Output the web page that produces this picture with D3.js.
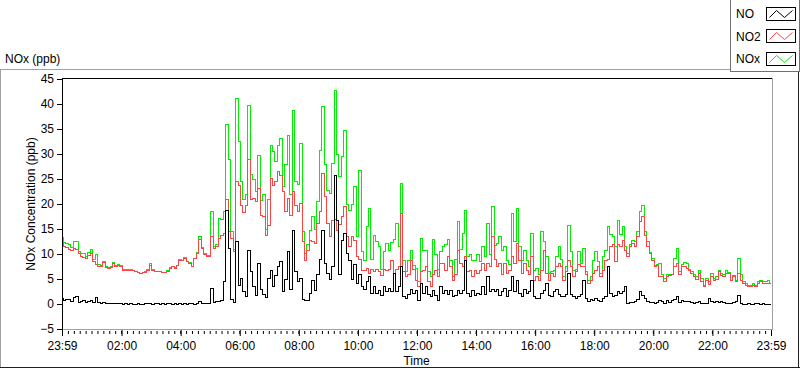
<!DOCTYPE html>
<html><head><meta charset="utf-8">
<script src="https://cdn.jsdelivr.net/npm/d3@7"></script>
<style>
body{margin:0;background:#fff}
svg{display:block}
text{font-family:"Liberation Sans",Arial,sans-serif;font-size:12px;fill:#000}
</style>
</head><body>
<svg id="chart" width="800" height="369"></svg>
<script>
// ---- data (5-minute samples starting at 23:59) ----
const stepMinutes = 5;
const NO = [
1.2,0.8,1.0,0.9,0.6,1.4,1.6,0.4,0.5,0.7,0.4,0.6,
0.8,0.3,1.3,0.3,0.2,0.3,0.2,0.2,0.1,0.2,0.2,0.1,
0.1,-0.1,0.1,0.0,0.1,-0.1,0.0,0.1,-0.1,0.0,0.1,0.1,
0.1,-0.1,0.1,0.1,0.0,0.1,-0.1,0.1,0.1,0.0,0.1,-0.1,
0.1,0.0,0.1,-0.1,0.2,0.1,0.0,0.1,0.5,0.1,0.1,0.1,
0.1,3.1,0.3,0.5,0.5,0.8,4.5,18.8,11.2,1.0,0.3,12.5,
3.8,5.1,2.5,1.5,10.8,6.5,3.5,1.8,8.1,3.0,2.0,1.3,
5.1,6.8,3.5,5.8,7.5,8.5,2.5,5.0,10.5,3.0,14.8,6.5,
4.5,5.1,1.0,0.8,0.8,2.1,4.8,2.8,6.0,9.0,14.8,8.1,
6.1,5.0,7.5,25.8,16.8,6.0,12.8,14.1,10.1,8.8,5.0,8.0,
4.1,6.0,3.5,3.0,4.5,5.5,2.1,3.5,2.1,2.8,1.8,3.5,
2.5,3.2,2.6,6.1,2.6,3.5,7.5,1.5,1.1,2.0,3.0,2.1,
2.8,0.8,4.1,2.1,3.5,2.0,1.5,2.8,1.8,0.8,3.5,2.1,
2.8,2.0,2.8,1.5,1.8,2.8,2.1,2.8,8.8,2.1,1.5,2.8,
1.8,2.2,2.0,3.5,2.0,5.5,2.5,3.0,2.5,3.0,1.8,2.5,
3.2,1.5,2.8,5.5,2.5,4.8,2.2,1.5,3.0,2.2,2.5,4.8,
1.5,1.1,1.2,2.1,2.8,4.1,1.8,1.5,2.5,3.0,2.0,1.5,
1.5,2.0,6.1,2.0,1.5,1.2,1.5,2.0,4.8,1.2,0.5,1.0,
0.8,1.2,0.8,0.6,1.2,1.5,7.5,2.1,1.5,1.8,2.5,2.1,
2.5,3.5,0.1,0.3,0.3,0.5,1.0,2.5,1.8,1.1,0.6,0.3,
0.4,0.1,0.3,0.8,0.5,0.2,0.8,0.4,0.8,1.0,1.5,0.4,
0.8,0.5,0.6,0.5,0.4,0.2,0.4,0.5,0.2,0.1,0.2,1.1,
0.5,0.3,0.5,0.3,0.5,0.3,0.2,0.1,0.1,0.3,0.5,1.8,
0.2,0.0,0.0,0.1,0.0,0.0,0.1,0.1,0.0,0.1,0.0,0.0,0.0
];
const NO2 = [
12.2,11.6,11.3,11.0,10.8,11.2,10.9,10.1,9.6,9.4,9.1,9.8,
10.2,8.6,8.0,7.6,7.5,8.3,7.3,7.2,7.4,8.2,7.5,7.7,
7.6,6.8,6.8,6.8,6.8,6.7,6.5,6.3,6.1,6.3,6.4,6.8,
7.8,6.8,6.5,6.5,6.5,6.3,6.4,6.6,7.2,7.5,7.2,7.8,
8.8,8.8,9.1,8.6,8.1,7.5,9.1,10.1,13.0,11.1,10.0,9.6,
9.6,13.5,11.2,11.5,13.2,13.8,14.2,21.0,14.5,13.2,10.5,24.5,
23.8,19.8,18.4,19.8,29.0,21.0,21.1,20.5,23.1,17.8,17.5,13.8,
15.8,25.1,23.8,24.5,26.5,25.8,22.5,18.5,21.1,17.8,22.5,19.8,
18.5,20.2,12.5,8.8,10.8,12.8,12.5,12.1,16.1,18.5,26.1,21.5,
16.1,13.5,16.8,17.0,14.8,16.0,17.5,19.5,13.5,11.5,13.5,12.8,
9.5,9.0,6.8,6.8,7.2,6.1,7.0,6.5,7.0,6.5,5.8,7.0,
6.8,7.0,8.8,6.2,7.0,7.5,18.1,6.5,5.5,6.0,8.8,7.0,
4.8,3.5,6.5,6.8,7.5,4.5,3.5,6.0,6.8,5.5,8.1,8.1,
6.8,9.5,7.5,4.8,6.0,10.8,8.1,7.5,9.5,6.5,6.8,5.5,
6.8,6.2,6.8,8.1,6.8,8.1,7.5,13.5,9.0,7.5,8.1,6.0,
8.1,6.2,6.8,9.5,8.1,12.1,8.8,6.2,8.1,6.8,6.0,9.5,
4.8,5.5,4.8,6.8,10.8,6.2,4.8,6.2,5.5,7.5,8.1,7.5,
4.8,6.5,8.8,7.5,5.5,6.5,8.0,7.5,7.5,6.0,4.1,4.8,
6.2,6.8,7.5,5.5,6.8,8.8,9.0,11.5,12.0,8.5,12.0,11.5,
12.8,10.8,9.5,11.5,12.1,11.5,13.5,16.5,17.5,13.8,11.5,10.1,
8.8,7.5,7.8,5.5,5.5,4.5,5.5,5.8,6.0,7.5,8.1,6.0,
7.5,7.5,7.2,6.8,6.2,5.5,5.0,6.2,4.5,3.5,4.8,4.0,
5.5,4.8,5.0,6.5,5.8,5.5,6.1,6.1,4.8,5.5,4.5,6.1,
4.8,4.1,3.8,3.5,3.5,3.8,3.5,4.1,4.5,4.1,4.1,4.1,4.1
];
const NOx = [
13.3,12.4,12.2,11.9,11.4,12.6,12.5,10.5,10.1,10.1,9.5,10.4,
11.0,8.9,9.9,7.9,7.7,8.6,7.5,7.4,7.5,8.4,7.7,8.0,
7.8,7.0,6.9,6.9,7.0,6.8,6.6,6.4,6.1,6.4,6.5,6.9,
8.1,6.9,6.6,6.6,6.5,6.4,6.4,6.7,7.3,7.5,7.3,7.8,
9.0,8.8,9.3,8.6,8.4,7.6,9.1,10.3,13.5,11.3,10.1,9.7,
9.7,18.5,11.6,12.0,17.2,17.0,18.5,36.0,29.0,14.5,10.9,41.1,
32.5,24.5,21.0,22.0,39.8,26.0,25.0,22.5,29.8,20.8,22.0,15.0,
21.0,31.8,30.5,28.5,31.8,33.1,23.5,28.0,33.8,22.0,38.8,24.5,
24.0,32.1,14.5,10.2,12.0,14.8,17.5,15.0,20.5,30.8,39.5,28.0,
22.8,22.1,28.1,42.8,30.0,25.5,29.5,34.8,20.0,18.8,20.0,23.5,
13.5,26.8,10.5,8.8,15.5,19.2,9.0,13.8,12.5,11.5,7.0,10.5,
12.1,10.8,12.3,13.0,16.1,11.5,24.1,8.8,6.5,8.8,10.8,7.8,
7.2,4.5,13.1,10.8,10.8,6.5,5.5,13.0,10.0,7.0,10.5,11.5,
12.0,13.0,8.8,5.5,9.0,16.5,11.0,14.1,18.8,9.5,10.0,8.8,
8.8,10.0,8.5,11.5,9.5,16.1,10.0,19.5,11.8,12.1,13.5,10.8,
11.5,8.8,7.9,18.1,12.5,19.1,11.5,8.8,10.8,8.8,7.5,14.1,
6.8,7.2,6.0,14.5,12.5,9.5,6.2,6.5,6.8,9.5,11.5,9.0,
5.5,7.5,15.8,10.5,6.8,7.0,10.5,8.1,11.1,6.5,4.8,5.5,
8.8,10.5,8.5,6.2,9.5,10.8,15.5,14.0,13.5,11.5,16.8,14.0,
15.5,11.5,10.2,12.0,12.8,12.5,14.5,18.5,19.8,14.5,12.5,10.4,
9.2,7.8,8.0,8.1,6.0,5.2,6.0,6.0,6.0,9.1,11.1,6.5,
8.0,8.3,8.1,7.0,6.5,6.0,5.5,6.8,5.2,3.8,5.2,4.5,
6.2,5.2,5.5,6.8,6.1,6.0,6.8,6.3,4.8,5.8,4.8,9.1,
6.0,4.5,4.1,3.8,3.8,4.1,3.8,4.5,4.8,4.5,4.5,4.8,4.1
];
const seriesNames = ["NO", "NO2", "NOx"];
const seriesColors = ["#000000", "#ff4444", "#00ee00"];
const yTicks = [-5, 0, 5, 10, 15, 20, 25, 30, 35, 40, 45];
const xTickLabels = ["23:59","02:00","04:00","06:00","08:00","10:00","12:00","14:00","16:00","18:00","20:00","22:00","23:59"];
const chartTitle = "NOx (ppb)";
const yTitle = "NOx Concentration (ppb)";
const xTitle = "Time";

// ---- layout ----
const svg = d3.select("#chart");
const L = 62, R = 771, T = 79, B = 329;
const t0 = new Date(2000, 0, 1, 23, 59);
const t1 = new Date(t0.getTime() + 24 * 3600 * 1000);
const x = d3.scaleTime().domain([t0, t1]).range([L, R]);
const y = d3.scaleLinear().domain([-5, 45]).range([B, T]);
const timeAt = i => new Date(t0.getTime() + i * stepMinutes * 60000);

// outer frame
svg.append("line").attr("x1", 0).attr("x2", 730).attr("y1", 69.5).attr("y2", 69.5).attr("stroke", "#a0a0a0");
svg.append("line").attr("x1", 0.5).attr("x2", 0.5).attr("y1", 69).attr("y2", 368).attr("stroke", "#a0a0a0");
svg.append("line").attr("x1", 0).attr("x2", 800).attr("y1", 367.5).attr("y2", 367.5).attr("stroke", "#202020");
svg.append("line").attr("x1", 798.5).attr("x2", 798.5).attr("y1", 72).attr("y2", 368).attr("stroke", "#202020");

// title
svg.append("text").attr("x", 5).attr("y", 63).text(chartTitle);

// plot area borders
svg.append("line").attr("x1", L).attr("x2", R + 1).attr("y1", 78.5).attr("y2", 78.5).attr("stroke", "#000");
svg.append("line").attr("x1", R + 1.5).attr("x2", R + 1.5).attr("y1", 78).attr("y2", 330).attr("stroke", "#a0a0a0");
svg.append("line").attr("x1", L).attr("x2", R + 2).attr("y1", 329.5).attr("y2", 329.5).attr("stroke", "#a0a0a0");
svg.append("line").attr("x1", L + 0.5).attr("x2", L + 0.5).attr("y1", 78).attr("y2", 330).attr("stroke", "#000");

// clip
svg.append("clipPath").attr("id", "clip").append("rect")
  .attr("x", L + 1).attr("y", T - 0.5).attr("width", R - L).attr("height", B - T);

// series (NOx first, then NO2, then NO on top)
const line = d3.line().curve(d3.curveStep).x((d, i) => x(timeAt(i))).y(d => y(d));
const drawOrder = [[NOx, 2], [NO2, 1], [NO, 0]];
const g = svg.append("g").attr("clip-path", "url(#clip)");
drawOrder.forEach(([arr, k]) => {
  g.append("path").datum(arr).attr("d", line)
    .attr("fill", "none").attr("stroke", seriesColors[k]).attr("stroke-width", 1)
    .attr("shape-rendering", "crispEdges");
});

// y axis
const yAxis = svg.append("g").attr("transform", `translate(${L},0)`)
  .call(d3.axisLeft(y).tickValues(yTicks).tickSize(5).tickPadding(3));
yAxis.select(".domain").remove();
yAxis.selectAll("text").style("font-size", "12px").attr("fill", "#000");

// x axis major + minor
const majorTimes = [t0];
for (let h = 2; h <= 22; h += 2) majorTimes.push(new Date(2000, 0, 2, h, 0));
majorTimes.push(t1);
const minorTimes = d3.range(0, 24 * 60 + 1, 12).map(m => new Date(t0.getTime() + m * 60000));
const xMinor = svg.append("g").attr("transform", `translate(0,331)`)
  .call(d3.axisBottom(x).tickValues(minorTimes).tickSize(3).tickFormat(""));
xMinor.select(".domain").remove();
const xAxis = svg.append("g").attr("transform", `translate(0,330)`)
  .call(d3.axisBottom(x).tickValues(majorTimes).tickSize(6).tickPadding(5)
    .tickFormat((d, i) => xTickLabels[i]));
xAxis.select(".domain").remove();
xAxis.selectAll("text").style("font-size", "12px").attr("fill", "#000");

// axis titles
svg.append("text").attr("x", (L + R) / 2).attr("y", 365).attr("text-anchor", "middle").text(xTitle);
svg.append("text").attr("transform", `translate(35,${(T + B) / 2}) rotate(-90)`)
  .attr("text-anchor", "middle").text(yTitle);

// legend
const lg = svg.append("g");
lg.append("rect").attr("x", 730.5).attr("y", -1).attr("width", 69).attr("height", 72.5)
  .attr("fill", "#fff").attr("stroke", "#707070");
seriesNames.forEach((name, k) => {
  const base = 18.3 + k * 22.5;
  lg.append("text").attr("x", 736).attr("y", base).text(name);
  const sx = 766.5, sy = Math.round(base - 11.5) + 0.5, sw = 29, sh = 13;
  lg.append("rect").attr("x", sx).attr("y", sy).attr("width", sw).attr("height", sh)
    .attr("fill", "#fff").attr("stroke", "#000");
  lg.append("polyline")
    .attr("points", [[sx + 3, sy + sh - 3], [sx + 10, sy + 3], [sx + 18, sy + sh - 3], [sx + 26, sy + 3]].join(" "))
    .attr("fill", "none").attr("stroke", seriesColors[k]).attr("stroke-width", 1);
});
</script>
</body></html>
